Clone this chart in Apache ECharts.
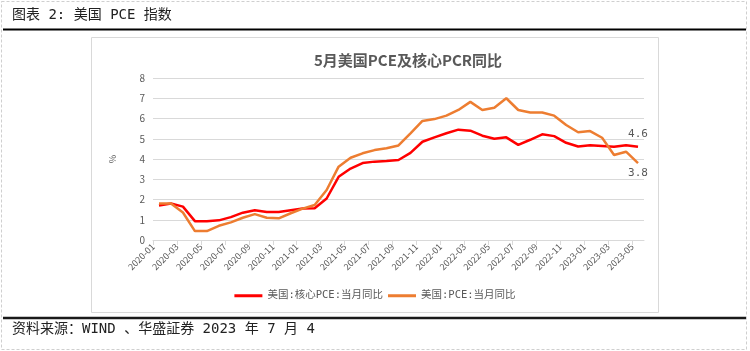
<!DOCTYPE html>
<html>
<head>
<meta charset="utf-8">
<script src="https://cdn.jsdelivr.net/npm/echarts@6/dist/echarts.min.js"></script>
<style>
html,body{margin:0;padding:0;background:#fff;}
#c{width:750px;height:351px;}
</style>
</head>
<body>
<div id="c"></div>
<script>
// ---- data ----
var months = ["2020-01","2020-02","2020-03","2020-04","2020-05","2020-06","2020-07","2020-08","2020-09","2020-10","2020-11","2020-12",
"2021-01","2021-02","2021-03","2021-04","2021-05","2021-06","2021-07","2021-08","2021-09","2021-10","2021-11","2021-12",
"2022-01","2022-02","2022-03","2022-04","2022-05","2022-06","2022-07","2022-08","2022-09","2022-10","2022-11","2022-12",
"2023-01","2023-02","2023-03","2023-04","2023-05"];
var corePCE = [1.7,1.8,1.65,0.93,0.93,0.97,1.13,1.35,1.47,1.38,1.38,1.47,1.55,1.57,2.05,3.12,3.53,3.8,3.87,3.9,3.95,4.3,4.85,5.07,5.27,5.45,5.4,5.15,5.0,5.07,4.7,4.95,5.22,5.13,4.8,4.62,4.68,4.64,4.6,4.68,4.6];
var pce = [1.8,1.8,1.36,0.44,0.44,0.7,0.87,1.1,1.28,1.1,1.07,1.32,1.55,1.73,2.47,3.62,4.06,4.28,4.44,4.53,4.67,5.27,5.88,5.97,6.14,6.42,6.82,6.42,6.53,7.0,6.42,6.3,6.3,6.14,5.68,5.32,5.38,5.05,4.2,4.36,3.8];
var yTicks = [0,1,2,3,4,5,6,7,8];
var endLabels = ["4.6","3.8"];
var seriesNames = ["美国:核心PCE:当月同比","美国:PCE:当月同比"];
var chartTitle = "5月美国PCE及核心PCR同比";
var headerText = "图表 2: 美国 PCE 指数";
var footerText = "资料来源：WIND 、华盛証券 2023 年 7 月 4";

var chart = echarts.init(document.getElementById('c'), null, {renderer:'canvas'});
var last = months.length - 1;
var gray = '#595959';
var font = '"Noto Sans CJK SC", "Noto Sans", sans-serif';
var monoFont = '"DejaVu Sans Mono", "Noto Sans CJK SC", monospace';

function lastLabel(txt){
  return function(p){ return p.dataIndex === last ? txt : ''; };
}

var option = {
  backgroundColor: '#fff',
  animation: false,
  textStyle: {fontFamily: font},
  title: {
    text: chartTitle,
    left: 403, top: 48, textAlign: 'center',
    textStyle: {fontSize: 15, fontWeight: 'bold', color: gray, fontFamily: font}
  },
  legend: {
    bottom: 45, left: 'center',
    itemWidth: 28, itemHeight: 3, itemGap: 5, icon: 'rect',
    textStyle: {fontSize: 10.5, color: gray, fontFamily: monoFont},
    data: seriesNames
  },
  grid: {left: 153, right: 106, top: 78, height: 162, containLabel: false},
  xAxis: [{
    type: 'category', data: months, boundaryGap: true,
    axisLine: {show: true, lineStyle: {color: '#d9d9d9'}},
    axisTick: {show: false}, axisLabel: {show: false}
  },{
    type: 'category', data: months.concat(['']), boundaryGap: false, position: 'bottom',
    axisLine: {show: false},
    axisTick: {show: true, interval: 1, length: 5, lineStyle: {color: '#d9d9d9'}},
    axisLabel: {interval: 1, rotate: 45, fontSize: 9, color: gray, margin: 5, fontFamily: font}
  }],
  yAxis: {
    type: 'value', min: 0, max: 8, interval: 1,
    name: '%', nameLocation: 'middle', nameGap: 36, nameRotate: 90,
    nameTextStyle: {fontSize: 9, color: gray},
    axisLine: {show: false}, axisTick: {show: false},
    axisLabel: {fontSize: 10, color: gray, margin: 8,
      formatter: function(v){ return yTicks.indexOf(v) >= 0 ? String(v) : ''; }},
    splitLine: {lineStyle: {color: '#d9d9d9', width: 1}}
  },
  series: [{
    name: seriesNames[0], type: 'line', xAxisIndex: 0, data: corePCE,
    symbol: 'circle', symbolSize: 0.1, showSymbol: true, showAllSymbol: true,
    lineStyle: {color: '#ff0000', width: 2.5}, itemStyle: {color: '#ff0000'},
    label: {show: true, position: 'top', distance: 7, formatter: lastLabel(endLabels[0]), color: gray, fontSize: 11, fontFamily: monoFont}
  },{
    name: seriesNames[1], type: 'line', xAxisIndex: 0, data: pce,
    symbol: 'circle', symbolSize: 0.1, showSymbol: true, showAllSymbol: true,
    lineStyle: {color: '#ed7d31', width: 2.5}, itemStyle: {color: '#ed7d31'},
    label: {show: true, position: 'bottom', distance: 5, formatter: lastLabel(endLabels[1]), color: gray, fontSize: 11, fontFamily: monoFont}
  }],
  graphic: [
    {type: 'rect', shape: {x: 1.5, y: 1.5, width: 745, height: 348}, style: {fill: 'none', stroke: '#cfcfcf', lineWidth: 1, lineDash: [3, 2]}, silent: true},
    {type: 'line', shape: {x1: 3, y1: 29.5, x2: 746, y2: 29.5}, style: {stroke: '#000', lineWidth: 2}},
    {type: 'line', shape: {x1: 3, y1: 318, x2: 746, y2: 318}, style: {stroke: '#1a1a1a', lineWidth: 2.5}},
    {type: 'rect', shape: {x: 91.5, y: 37.5, width: 567, height: 275}, style: {fill: 'none', stroke: '#d9d9d9', lineWidth: 1}},
    {type: 'text', left: 12, top: 8, style: {text: headerText, fontSize: 14, fill: '#222', fontFamily: monoFont}},
    {type: 'text', left: 12, top: 322, style: {text: footerText, fontSize: 14, fill: '#222', fontFamily: monoFont}}
  ]
};
chart.setOption(option);
</script>
</body>
</html>
